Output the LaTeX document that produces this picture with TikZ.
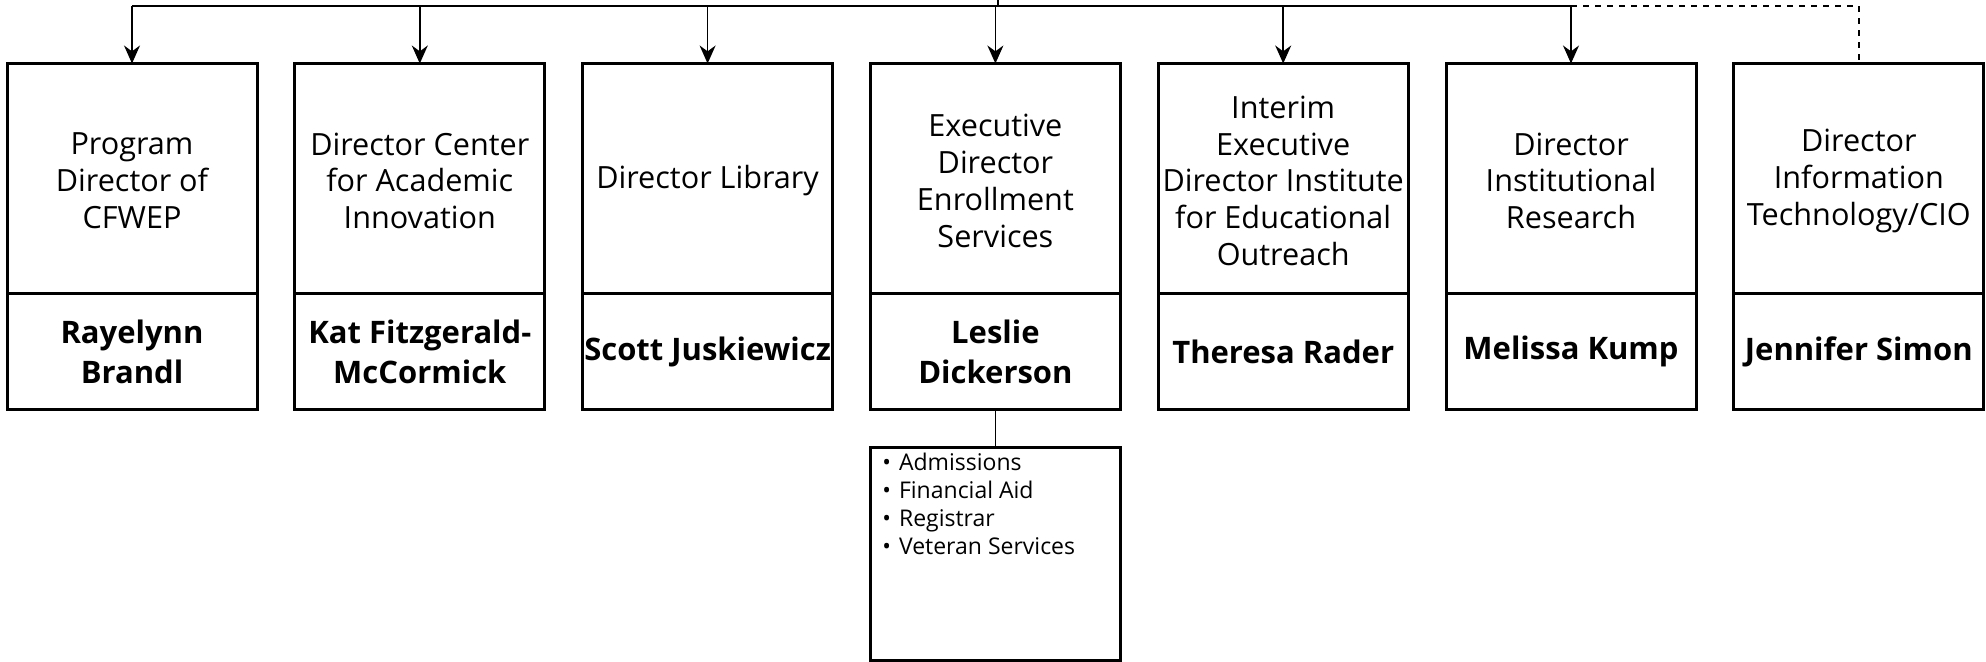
\documentclass[tikz,border=0pt]{standalone}
\usepackage{fontspec}
\setmainfont{Open Sans}
\usetikzlibrary{positioning,arrows.meta}

\tikzset{
    titlebox/.style={draw, line width=1.5pt, outer sep=0pt, minimum width=125pt, minimum height=115pt},
    titletext/.style={inner sep=1pt, align=center, font=\fontsize{15.3}{18.4}\selectfont},
    namebox/.style={draw, line width=1.5pt, outer sep=0pt, minimum width=125pt, minimum height=58pt,
        inner sep=1pt, align=center, font=\fontsize{15.5}{20}\selectfont\bfseries},
    listbox/.style={draw, line width=1.5pt, outer sep=0pt, minimum width=125pt, minimum height=106.5pt,
        inner sep=0pt, font=\fontsize{11.5}{14}\selectfont},
    link/.style={line width=0.75pt},
}

\begin{document}
\begin{tikzpicture}[x=0.5pt,y=-0.5pt]
    \useasboundingbox (0,0) rectangle (1986,662);

    \foreach[count=\k] \ttl/\who in {
        {Program\\Director of\\CFWEP}/{Rayelynn\\Brandl},
        {Director Center\\for Academic\\Innovation}/{Kat Fitzgerald-\\McCormick},
        {Director Library}/{Scott Juskiewicz},
        {Executive\\Director\\Enrollment\\Services}/{Leslie\\Dickerson},
        {Interim\\Executive\\Director Institute\\for Educational\\Outreach}/{Theresa Rader},
        {Director\\Institutional\\Research}/{Melissa Kump},
        {Director\\Information\\Technology/CIO}/{Jennifer Simon}} {
        \node[titlebox] (t\k) at ({132+(\k-1)*287.8},178.5) {};
        \node[titletext] (l\k) at ([yshift=-1.2pt]t\k.center) {\ttl};
        \node[namebox, below=0pt of t\k] (n\k) {\who};
    }

    % enrollment units
    \node[listbox, below=19pt of n4] (units) {\parbox[c][106.5pt][t]{125pt}{%
        \vspace{1.8pt}\hspace{6pt}\begin{tabular}{@{}l@{\hspace{4pt}}l@{}}
        \textbullet & Admissions\\
        \textbullet & Financial Aid\\
        \textbullet & Registrar\\
        \textbullet & Veteran Services
        \end{tabular}}};
    \draw[link] (n4.south) -- (units.north);

    % reporting lines
    \coordinate (root) at (998,0);
    \coordinate (bus) at (998,6);
    \draw[link] (root) -- (bus);
    \draw[link] (t1.north |- bus) -- (t6.north |- bus);
    \foreach \k in {1,...,6}
        \draw[link, -{Stealth[length=9pt,width=8pt]}] (t\k.north |- bus) -- (t\k.north);
    \draw[link, dashed] (t6.north |- bus) -- (t7.north |- bus) -- (t7.north);
\end{tikzpicture}
\end{document}
